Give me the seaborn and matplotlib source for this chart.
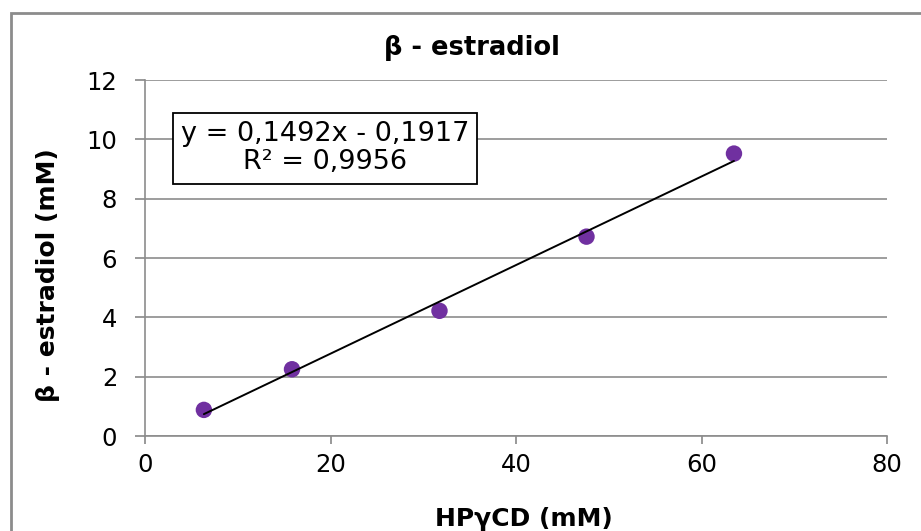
import numpy as np
import pandas as pd
import matplotlib
matplotlib.use("Agg")
import matplotlib.pyplot as plt
import seaborn as sns
from matplotlib.patches import Rectangle

# Data
hp_gamma_cd = [6.35, 15.85, 31.75, 47.6, 63.5]
estradiol = [0.88, 2.25, 4.22, 6.72, 9.52]
x_ticks = [0, 20, 40, 60, 80]
y_ticks = [0, 2, 4, 6, 8, 10, 12]

df = pd.DataFrame({"x": hp_gamma_cd, "y": estradiol})

sns.set_theme(style="white")
plt.rcParams["font.family"] = ["DejaVu Sans"]
plt.rcParams["text.color"] = "black"
plt.rcParams["axes.labelcolor"] = "black"

W, H = 921, 531
fig = plt.figure(figsize=(9.21, 5.31), dpi=100)
ax = fig.add_axes([145 / W, 1 - 436 / H, (887 - 145) / W, (436 - 80) / H])

sns.scatterplot(data=df, x="x", y="y", ax=ax, color="#7030A0", s=140,
                edgecolor="none", zorder=3)
sns.regplot(data=df, x="x", y="y", ax=ax, scatter=False, ci=None,
            line_kws={"color": "black", "lw": 1.4, "zorder": 4})

ax.set_xlim(0, 80)
ax.set_ylim(0, 12)
ax.set_xticks(x_ticks)
ax.set_yticks(y_ticks)
ax.tick_params(axis="both", labelsize=17.5, colors="#888888", labelcolor="black",
               direction="out", width=1.2, bottom=True, left=True)
ax.tick_params(axis="y", length=7, pad=13)
ax.tick_params(axis="x", length=6, pad=6)
ax.grid(axis="y", color="#8c8c8c", lw=1.2)
ax.set_axisbelow(True)
for s in ["top", "right"]:
    ax.spines[s].set_visible(False)
for s in ["left", "bottom"]:
    ax.spines[s].set_color("#8c8c8c")
    ax.spines[s].set_linewidth(1.2)

ax.set_xlabel("HPγCD (mM)", fontsize=18, fontweight="bold", va="center", ha="center")
ax.xaxis.set_label_coords((524 - 145) / 742, (436 - 519) / 356)
ax.set_ylabel("β - estradiol (mM)", fontsize=18, fontweight="bold", va="center", ha="center",
              rotation_mode="default")
ax.yaxis.set_label_coords((48 - 145) / 742, (436 - 275) / 356)

fig.text(472 / W, 1 - 48 / H, "β - estradiol", fontsize=18.5, fontweight="bold",
         ha="center", va="center")

# equation from fitted trendline
slope, intercept = np.polyfit(hp_gamma_cd, estradiol, 1)
r2 = np.corrcoef(hp_gamma_cd, estradiol)[0, 1] ** 2
eq = "y = 0,1492x - 0,1917\nR² = 0,9956"
fig.text(325 / W, 1 - 148.5 / H, eq, ha="center", va="center", fontsize=19.5,
         linespacing=1.1,
         bbox=dict(boxstyle="square,pad=0.3", fc="white", ec="black", lw=1.3))

# outer frame
fig.patches.append(Rectangle((11 / W, -0.1), 1.2, 1 - 13 / H + 0.1,
                             transform=fig.transFigure, fill=False,
                             ec="#8c8c8c", lw=2))

fig.savefig("out.png", dpi=100)
